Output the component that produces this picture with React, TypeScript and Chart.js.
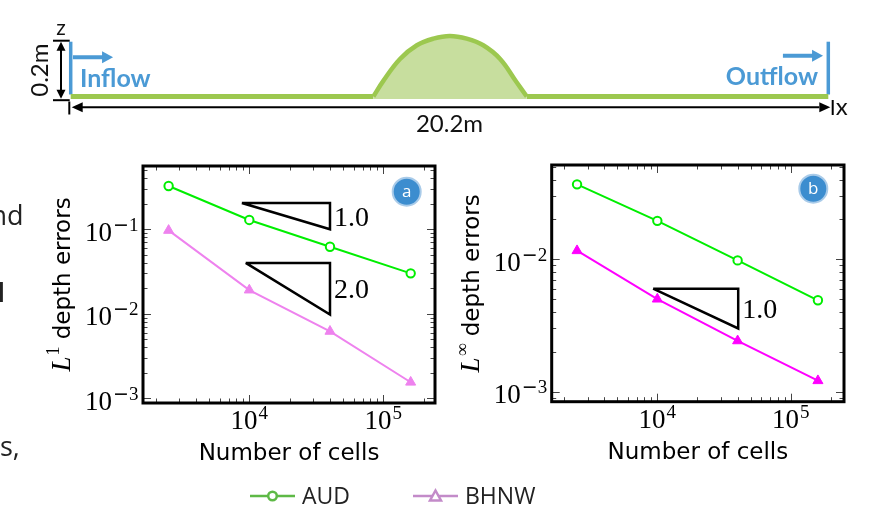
import React, { useEffect, useRef } from 'react';
import { Chart, registerables } from 'chart.js';

Chart.register(...registerables);

const W = 870;
const H = 508;

// ---------------- convergence data ----------------
const cells = [2500, 10000, 40000, 160000];
const audL1 = [0.325, 0.129, 0.0622, 0.0301];
const bhnwL1 = [0.097, 0.0191, 0.0062, 0.00155];
const audLinf = [0.0368, 0.0195, 0.0098, 0.0049];
const bhnwLinf = [0.0116, 0.005, 0.00242, 0.00121];

const xMajorExponents = [4, 5];
const yMajorExponentsL1 = [-3, -2, -1];
const yMajorExponentsLinf = [-3, -2];
const minorMultipliers = [2, 3, 4, 5, 6, 7, 8, 9];

// slope triangles: x = [left, right], y = [top, bottom]
const slopeL1Order1 = { x: [8800, 40000], y: [0.205, 0.1], label: '1.0' };
const slopeL1Order2 = { x: [9400, 40000], y: [0.04, 0.0098], label: '2.0' };
const slopeLinfOrder1 = { x: [9300, 40400], y: [0.006, 0.003], label: '1.0' };

const seriesNames = ['AUD', 'BHNW'];
const panelLetters = ['a', 'b'];
const xTitle = 'Number of cells';
const yTitleText = ' depth errors';
const normSymbols = ['1', '∞'];

// ---------------- channel sketch ----------------
const channelLength = 20.2;
const wallHeight = 0.2;
const bumpX = [8.07, 8.34, 8.78, 9.23, 9.67, 10.11, 10.56, 11.0, 11.45, 11.89, 12.16];
const bumpZ = [0, 0.058, 0.137, 0.187, 0.211, 0.221, 0.211, 0.187, 0.137, 0.052, 0];
const bedX = [0, 8.07, 10.11, 12.16, 20.2];
const bedZ = [0, 0, null, 0, 0];
const inflowArrowX = [0.06, 1.13];
const outflowArrowX = [18.99, 20.06];
const flowArrowZ = [0.143, 0.149];
const sketchLabels = { inflow: 'Inflow', outflow: 'Outflow', length: '20.2m', height: '0.2m', z: 'z', x: 'x' };

const GREEN = '#00ee00';
const VIOLET = '#ee82ee';
const MAGENTA = '#ff00ff';
const BLUE = '#4b9ad5';
const BED = '#9cc84f';
const BED_FILL = '#c7de9e';

const SERIF = '"Liberation Serif", "DejaVu Serif", serif';
const SANS = '"DejaVu Sans", sans-serif';

function drawPow(ctx: CanvasRenderingContext2D, exp: number, x: number, baseline: number, align: 'right' | 'center') {
  const mainFont = `27px ${SERIF}`;
  const supFont = `19px ${SERIF}`;
  const minusFont = `19px ${SANS}`;
  const neg = exp < 0;
  const digits = String(Math.abs(exp));
  ctx.font = mainFont;
  const wMain = ctx.measureText('10').width;
  ctx.font = minusFont;
  const wMinus = neg ? ctx.measureText('−').width : 0;
  ctx.font = supFont;
  const wDig = ctx.measureText(digits).width;
  const gap = 1;
  const total = wMain + gap + wMinus + wDig;
  const x0 = align === 'right' ? x - total : x - total / 2;
  ctx.textAlign = 'left';
  ctx.textBaseline = 'alphabetic';
  ctx.fillStyle = '#000';
  ctx.font = mainFont;
  ctx.fillText('10', x0, baseline);
  let xs = x0 + wMain + gap;
  const sb = baseline - 10;
  if (neg) {
    ctx.font = minusFont;
    ctx.fillText('−', xs, sb);
    xs += wMinus;
  }
  ctx.font = supFont;
  ctx.fillText(digits, xs, sb);
}

function drawYTitle(ctx: CanvasRenderingContext2D, sup: string, x: number, yCenter: number) {
  ctx.save();
  ctx.translate(x, yCenter);
  ctx.rotate(-Math.PI / 2);
  const fL = `italic 27px ${SERIF}`;
  const fS = `18px ${SERIF}`;
  const fT = `23px ${SANS}`;
  ctx.font = fL;
  const wL = ctx.measureText('L').width;
  ctx.font = fS;
  const wS = ctx.measureText(sup).width;
  ctx.font = fT;
  const wT = ctx.measureText(yTitleText).width;
  const total = wL + 1 + wS + wT;
  const s = -total / 2;
  ctx.fillStyle = '#000';
  ctx.textAlign = 'left';
  ctx.textBaseline = 'alphabetic';
  ctx.font = fL;
  ctx.fillText('L', s, 0);
  ctx.font = fS;
  ctx.fillText(sup, s + wL + 1, -11);
  ctx.font = fT;
  ctx.fillText(yTitleText, s + wL + 1 + wS, 0);
  ctx.restore();
}

interface Slope { x: number[]; y: number[]; label: string }
interface PanelSpec {
  area: { left: number; top: number; right: number; bottom: number };
  xMin: number; xMax: number; yMin: number; yMax: number;
  aud: number[]; bhnw: number[]; bhnwColor: string;
  slopes: Slope[]; yExps: number[]; norm: string; letter: string;
  badgeOffset: { dx: number; dy: number };
  legend: boolean;
}

function panelPlugin(spec: PanelSpec) {
  return {
    id: 'panelDecor',
    afterDraw(chart: any) {
      const ctx: CanvasRenderingContext2D = chart.ctx;
      const { left, right, top, bottom } = chart.chartArea;
      const xs = chart.scales.x;
      const ys = chart.scales.y;
      ctx.save();
      // ticks (inward, all four sides)
      ctx.strokeStyle = '#444';
      ctx.lineWidth = 1;
      const seg = (x1: number, y1: number, x2: number, y2: number) => {
        ctx.beginPath(); ctx.moveTo(x1, y1); ctx.lineTo(x2, y2); ctx.stroke();
      };
      for (let k = 3; k <= 5; k++) {
        for (const m of [1, ...minorMultipliers]) {
          const v = m * Math.pow(10, k);
          if (v < spec.xMin || v > spec.xMax) continue;
          const px = Math.round(xs.getPixelForValue(v)) + 0.5;
          const len = m === 1 ? 8 : 4.5;
          seg(px, bottom, px, bottom - len);
          seg(px, top, px, top + len);
        }
      }
      for (let k = -4; k <= 0; k++) {
        for (const m of [1, ...minorMultipliers]) {
          const v = m * Math.pow(10, k);
          if (v < spec.yMin || v > spec.yMax) continue;
          const py = Math.round(ys.getPixelForValue(v)) + 0.5;
          const len = m === 1 ? 8 : 4.5;
          seg(left, py, left + len, py);
          seg(right, py, right - len, py);
        }
      }
      // frame
      ctx.lineWidth = 3;
      ctx.strokeStyle = '#000';
      ctx.strokeRect(left, top, right - left, bottom - top);
      // tick labels
      for (const e of xMajorExponents) {
        drawPow(ctx, e, xs.getPixelForValue(Math.pow(10, e)), bottom + 26, 'center');
      }
      for (const e of spec.yExps) {
        drawPow(ctx, e, left - 4.5, ys.getPixelForValue(Math.pow(10, e)) + 11.5, 'right');
      }
      // axis titles
      ctx.fillStyle = '#000';
      ctx.font = `23px ${SANS}`;
      ctx.textAlign = 'center';
      ctx.textBaseline = 'alphabetic';
      ctx.fillText(xTitle, (left + right) / 2, bottom + 57);
      drawYTitle(ctx, spec.norm, left - 73, (top + bottom) / 2);
      // slope labels
      ctx.font = `28px ${SERIF}`;
      ctx.textAlign = 'left';
      ctx.fillStyle = '#000';
      for (const s of spec.slopes) {
        const sx = xs.getPixelForValue(s.x[1]);
        const sy = (ys.getPixelForValue(s.y[0]) + ys.getPixelForValue(s.y[1])) / 2;
        ctx.fillText(s.label, sx + 4, sy + 9.5);
      }
      // badge
      const cx = right + spec.badgeOffset.dx;
      const cy = top + spec.badgeOffset.dy;
      ctx.beginPath();
      ctx.arc(cx, cy, 14, 0, Math.PI * 2);
      ctx.fillStyle = '#3c8dcf';
      ctx.fill();
      ctx.lineWidth = 2;
      ctx.strokeStyle = '#a9cbe9';
      ctx.stroke();
      ctx.fillStyle = '#fff';
      ctx.font = '17px "Open Sans", sans-serif';
      ctx.textAlign = 'center';
      ctx.textBaseline = 'middle';
      ctx.fillText(spec.letter, cx, cy + 0.5);
      // legend (figure level)
      if (spec.legend) {
        const ly = 496;
        const items = [
          { name: seriesNames[0], color: '#5eb946', x: 250, marker: 'circle' },
          { name: seriesNames[1], color: '#c38bc9', x: 413, marker: 'triangle' },
        ];
        for (const it of items) {
          ctx.strokeStyle = it.color;
          ctx.lineWidth = 2.5;
          seg(it.x, ly, it.x + 45, ly);
          const mx = it.x + 22.5;
          ctx.beginPath();
          if (it.marker === 'circle') {
            ctx.arc(mx, ly, 4.3, 0, Math.PI * 2);
          } else {
            ctx.moveTo(mx, ly - 5.5);
            ctx.lineTo(mx + 5.5, ly + 4.5);
            ctx.lineTo(mx - 5.5, ly + 4.5);
            ctx.closePath();
          }
          ctx.fillStyle = '#fff';
          ctx.fill();
          ctx.stroke();
          ctx.fillStyle = '#222';
          ctx.font = '23px "Open Sans", sans-serif';
          ctx.textAlign = 'left';
          ctx.textBaseline = 'alphabetic';
          ctx.fillText(it.name, it.x + 52, 503.5);
        }
      }
      ctx.restore();
    },
  };
}

function panelConfig(spec: PanelSpec): any {
  const toPts = (vals: number[]) => cells.map((c, i) => ({ x: c, y: vals[i] }));
  const tri = (s: Slope) => [
    { x: s.x[0], y: s.y[0] },
    { x: s.x[1], y: s.y[0] },
    { x: s.x[1], y: s.y[1] },
    { x: s.x[0], y: s.y[0] },
  ];
  const a = spec.area;
  return {
    type: 'line',
    data: {
      datasets: [
        {
          label: seriesNames[0], data: toPts(spec.aud), borderColor: GREEN, borderWidth: 2,
          pointStyle: 'circle', pointRadius: 4.2, pointBorderWidth: 2,
          pointBackgroundColor: '#fff', pointBorderColor: GREEN, order: 1, clip: false,
        },
        {
          label: seriesNames[1], data: toPts(spec.bhnw), borderColor: spec.bhnwColor, borderWidth: 2,
          pointStyle: 'triangle', pointRadius: 5.8, pointBorderWidth: 1,
          pointBackgroundColor: spec.bhnwColor, pointBorderColor: spec.bhnwColor, order: 2, clip: false,
        },
        ...spec.slopes.map((s) => ({
          label: 'slope ' + s.label, data: tri(s), borderColor: '#000', borderWidth: 2.5,
          pointRadius: 0, borderJoinStyle: 'miter', order: 3,
        })),
      ],
    },
    options: {
      responsive: false,
      animation: false,
      events: [],
      layout: { padding: { left: a.left, top: a.top, right: W - a.right, bottom: H - a.bottom } },
      scales: {
        x: { type: 'logarithmic', min: spec.xMin, max: spec.xMax, display: false },
        y: { type: 'logarithmic', min: spec.yMin, max: spec.yMax, display: false },
      },
      plugins: { legend: { display: false }, tooltip: { enabled: false }, title: { display: false } },
    },
    plugins: [panelPlugin(spec)],
  };
}

function sketchConfig(): any {
  const bump = bumpX.map((x, i) => ({ x, y: bumpZ[i] }));
  const bed = bedX.map((x, i) => ({ x, y: bedZ[i] }));
  const plugin = {
    id: 'sketchDecor',
    beforeDatasetsDraw(chart: any) {
      const ctx: CanvasRenderingContext2D = chart.ctx;
      const xs = chart.scales.x;
      const ys = chart.scales.y;
      ctx.save();
      ctx.strokeStyle = BLUE;
      ctx.lineWidth = 3.5;
      for (const wx of [0, channelLength]) {
        const px = xs.getPixelForValue(wx);
        ctx.beginPath();
        ctx.moveTo(px, ys.getPixelForValue(0) - 2);
        ctx.lineTo(px, ys.getPixelForValue(wallHeight));
        ctx.stroke();
      }
      ctx.restore();
    },
    afterDatasetsDraw(chart: any) {
      const ctx: CanvasRenderingContext2D = chart.ctx;
      const xs = chart.scales.x;
      const ys = chart.scales.y;
      const x0 = xs.getPixelForValue(0);
      const x1 = xs.getPixelForValue(channelLength);
      const z0 = ys.getPixelForValue(0);
      const zTop = ys.getPixelForValue(wallHeight);
      ctx.save();
      const seg = (a: number, b: number, c: number, d: number) => {
        ctx.beginPath(); ctx.moveTo(a, b); ctx.lineTo(c, d); ctx.stroke();
      };
      const head = (tx: number, ty: number, dx: number, dy: number, len: number, half: number) => {
        const bx = tx - dx * len;
        const by = ty - dy * len;
        ctx.beginPath();
        ctx.moveTo(tx, ty);
        ctx.lineTo(bx - dy * half, by + dx * half);
        ctx.lineTo(bx + dy * half, by - dx * half);
        ctx.closePath();
        ctx.fill();
      };
      // blue flow arrows
      ctx.strokeStyle = BLUE;
      ctx.fillStyle = BLUE;
      ctx.lineWidth = 4;
      const arrows = [
        { a: inflowArrowX[0], b: inflowArrowX[1], z: flowArrowZ[0] },
        { a: outflowArrowX[0], b: outflowArrowX[1], z: flowArrowZ[1] },
      ];
      for (const ar of arrows) {
        const pa = xs.getPixelForValue(ar.a);
        const pb = xs.getPixelForValue(ar.b);
        const py = ys.getPixelForValue(ar.z);
        seg(pa, py, pb - 9, py);
        head(pb, py, 1, 0, 11, 6);
      }
      // labels
      ctx.font = 'bold 25px Lato, "Open Sans", sans-serif';
      ctx.textBaseline = 'alphabetic';
      ctx.textAlign = 'left';
      ctx.fillText(sketchLabels.inflow, x0 + 9.3, z0 - 9.8);
      ctx.textAlign = 'right';
      ctx.fillText(sketchLabels.outflow, x1 - 10.3, z0 - 11.3);
      // black dimension lines
      ctx.strokeStyle = '#000';
      ctx.fillStyle = '#000';
      ctx.lineWidth = 2;
      const xv = x0 - 9.7;
      const yb = z0 + 2.2;
      seg(xv, zTop + 8, xv, yb - 8);
      head(xv, zTop, 0, -1, 9, 4.5);
      head(xv, yb, 0, 1, 9, 4.5);
      seg(xv - 8, zTop - 1, x0 - 1, zTop - 1);
      seg(xv - 8, yb + 1.5, x0 - 1, yb + 1.5);
      const yh = z0 + 10.8;
      seg(x0 - 1.4, z0 + 5, x0 - 1.4, z0 + 18);
      seg(x1 + 4.4, z0 + 3.5, x1 + 4.4, z0 + 18.5);
      seg(x0 + 10, yh, x1 - 9, yh);
      head(x0 + 1, yh, -1, 0, 11, 5);
      head(x1 + 2, yh, 1, 0, 11, 5);
      // text
      ctx.fillStyle = '#111';
      ctx.font = '21px Lato, sans-serif';
      ctx.textAlign = 'center';
      ctx.fillText(sketchLabels.z, xv, zTop - 6.5);
      ctx.font = '24px Lato, sans-serif';
      ctx.textAlign = 'left';
      ctx.fillText(sketchLabels.x, x1 + 7.5, z0 + 18.5);
      ctx.font = '24px Lato, sans-serif';
      ctx.textAlign = 'center';
      ctx.fillText(sketchLabels.length, xs.getPixelForValue(channelLength / 2), z0 + 35.5);
      ctx.save();
      ctx.translate(x0 - 30, (zTop + z0) / 2 + 1);
      ctx.rotate(-Math.PI / 2);
      ctx.textBaseline = 'middle';
      ctx.fillText(sketchLabels.height, 0, 0);
      ctx.restore();
      // fragments of the surrounding page text
      ctx.fillStyle = '#222';
      ctx.font = '27px "Open Sans", sans-serif';
      ctx.textBaseline = 'alphabetic';
      ctx.textAlign = 'right';
      ctx.fillText('nd', 23.5, 225);
      ctx.font = 'bold 27px "Open Sans", sans-serif';
      ctx.fillText('l', 5, 301.5);
      ctx.font = '27px "Open Sans", sans-serif';
      ctx.textAlign = 'left';
      ctx.fillText('s,', 0, 456);
      ctx.restore();
    },
  };
  return {
    type: 'line',
    data: {
      datasets: [
        {
          label: 'bump', data: bump, borderColor: BED, borderWidth: 4.5, pointRadius: 0,
          tension: 0.4, fill: { value: -0.009 }, backgroundColor: BED_FILL, clip: false, order: 2,
        },
        {
          label: 'bed', data: bed, borderColor: BED, borderWidth: 5, pointRadius: 0,
          tension: 0, fill: false, clip: false, order: 1,
        },
      ],
    },
    options: {
      responsive: false,
      animation: false,
      events: [],
      layout: { padding: { left: 70.7, right: W - 828.3, top: 28, bottom: H - 110.2 } },
      scales: {
        x: { type: 'linear', min: 0, max: channelLength, display: false },
        y: { type: 'linear', min: -0.05, max: 0.25, display: false },
      },
      plugins: { legend: { display: false }, tooltip: { enabled: false } },
    },
    plugins: [plugin],
  };
}

const panelA: PanelSpec = {
  area: { left: 143, top: 166, right: 435, bottom: 403 },
  xMin: 1610, xMax: 243000, yMin: 0.00088, yMax: 0.561,
  aud: audL1, bhnw: bhnwL1, bhnwColor: VIOLET,
  slopes: [slopeL1Order1, slopeL1Order2], yExps: yMajorExponentsL1,
  norm: normSymbols[0], letter: panelLetters[0],
  badgeOffset: { dx: -28.3, dy: 25.7 }, legend: true,
};

const panelB: PanelSpec = {
  area: { left: 551.7, top: 165, right: 844, bottom: 401.7 },
  xMin: 1614, xMax: 251000, yMin: 0.00084, yMax: 0.0515,
  aud: audLinf, bhnw: bhnwLinf, bhnwColor: MAGENTA,
  slopes: [slopeLinfOrder1], yExps: yMajorExponentsLinf,
  norm: normSymbols[1], letter: panelLetters[1],
  badgeOffset: { dx: -30.7, dy: 23.7 }, legend: false,
};

export default function App() {
  const sketchRef = useRef<HTMLCanvasElement>(null);
  const aRef = useRef<HTMLCanvasElement>(null);
  const bRef = useRef<HTMLCanvasElement>(null);

  useEffect(() => {
    const charts = [
      new Chart(sketchRef.current!, sketchConfig()),
      new Chart(aRef.current!, panelConfig(panelA)),
      new Chart(bRef.current!, panelConfig(panelB)),
    ];
    return () => charts.forEach((c) => c.destroy());
  }, []);

  const cs: React.CSSProperties = { position: 'absolute', left: 0, top: 0, width: W, height: H };
  return (
    <div style={{ position: 'absolute', left: 0, top: 0, width: W, height: H, background: '#fff', overflow: 'hidden' }}>
      <canvas ref={sketchRef} width={W} height={H} style={cs} />
      <canvas ref={aRef} width={W} height={H} style={cs} />
      <canvas ref={bRef} width={W} height={H} style={cs} />
    </div>
  );
}
